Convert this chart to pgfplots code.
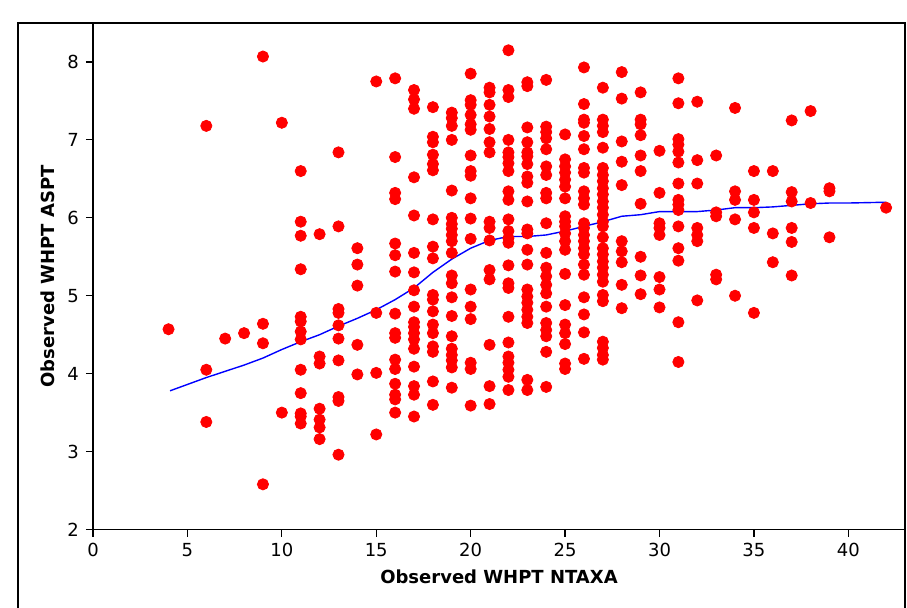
\documentclass[border=0pt]{standalone}
\usepackage{fontspec}
\setmainfont{DejaVu Sans}
\usepackage{pgfplots}
\pgfplotsset{compat=1.18}

\begin{document}
\begin{tikzpicture}
\useasboundingbox (-46.5pt,-38.75pt) rectangle (407pt,264.75pt);
% graph frame
\draw[line width=0.6pt] (-37.5pt,-45pt) -- (-37.5pt,253.25pt) -- (406pt,253.25pt) -- (406pt,-45pt);
\begin{axis}[
  at={(0,0)}, anchor=south west,
  width=406pt, height=253.25pt, scale only axis,
  xmin=0, xmax=43, ymin=2, ymax=8.5,
  axis x line*=bottom, axis y line*=left,
  axis line style={line width=0.6pt},
  xtick={0,5,...,40}, ytick={2,3,...,8},
  tick align=outside, major tick length=3.5pt,
  tick style={black, line width=0.6pt},
  /pgf/number format/assume math mode=true,
  ticklabel style={font=\fontsize{9}{10}\selectfont},
  xlabel={Observed WHPT NTAXA},
  ylabel={Observed WHPT ASPT},
  label style={font=\fontsize{9}{10}\selectfont\bfseries},
  xlabel style={at={(axis description cs:0.5,-0.094)}, anchor=center},
  ylabel style={at={(axis description cs:-0.056,0.5)}, anchor=center},
  clip=false,
]
\addplot[only marks, mark=*, mark size=2.8pt, color=red, fill=red] coordinates {
(4,4.57)
(6,7.18)(6,4.05)(6,3.38)
(7,4.45)
(8,4.52)
(9,8.07)(9,4.64)(9,4.39)(9,2.58)
(10,7.22)(10,3.50)
(11,6.60)(11,5.95)(11,5.77)(11,5.34)(11,4.73)(11,4.67)(11,4.54)(11,4.44)(11,4.05)(11,3.75)(11,3.49)(11,3.45)(11,3.36)
(12,5.79)(12,4.22)(12,4.13)(12,3.55)(12,3.41)(12,3.31)(12,3.16)
(13,6.84)(13,5.89)(13,4.83)(13,4.78)(13,4.62)(13,4.45)(13,4.17)(13,3.70)(13,3.65)(13,2.96)
(14,5.61)(14,5.40)(14,5.13)(14,4.37)(14,3.99)
(15,7.75)(15,4.78)(15,4.01)(15,3.22)
(16,7.79)(16,6.78)(16,6.32)(16,6.24)(16,5.67)(16,5.52)(16,5.31)(16,4.77)(16,4.52)(16,4.46)(16,4.18)(16,4.06)(16,3.87)(16,3.73)(16,3.67)(16,3.50)
(17,7.64)(17,7.52)(17,7.40)(17,6.52)(17,6.03)(17,5.55)(17,5.30)(17,5.07)(17,4.86)(17,4.66)(17,4.60)(17,4.52)(17,4.44)(17,4.32)(17,4.09)(17,3.84)(17,3.73)(17,3.45)
(18,7.42)(18,7.04)(18,6.97)(18,6.81)(18,6.69)(18,6.61)(18,5.98)(18,5.63)(18,5.48)(18,5.01)(18,4.95)(18,4.80)(18,4.63)(18,4.52)(18,4.35)(18,4.28)(18,3.90)(18,3.60)
(19,7.35)(19,7.28)(19,7.18)(19,7.00)(19,6.35)(19,6.00)(19,5.92)(19,5.86)(19,5.78)(19,5.70)(19,5.55)(19,5.26)(19,5.16)(19,4.98)(19,4.74)(19,4.48)(19,4.32)(19,4.24)(19,4.17)(19,4.08)(19,3.82)
(20,7.85)(20,7.51)(20,7.45)(20,7.32)(20,7.20)(20,7.13)(20,6.80)(20,6.60)(20,6.54)(20,6.25)(20,5.99)(20,5.73)(20,5.08)(20,4.86)(20,4.70)(20,4.14)(20,4.06)(20,3.59)
(21,7.67)(21,7.61)(21,7.45)(21,7.30)(21,7.14)(21,6.97)(21,6.84)(21,5.95)(21,5.87)(21,5.71)(21,5.33)(21,5.21)(21,4.37)(21,3.84)(21,3.61)
(22,8.15)(22,7.64)(22,7.55)(22,7.00)(22,6.84)(22,6.78)(22,6.70)(22,6.60)(22,6.34)(22,6.23)(22,5.98)(22,5.83)(22,5.74)(22,5.68)(22,5.39)(22,5.16)(22,5.10)(22,4.73)(22,4.40)(22,4.22)(22,4.14)(22,4.05)(22,3.96)(22,3.79)
(23,7.74)(23,7.69)(23,7.16)(23,6.97)(23,6.84)(23,6.79)(23,6.69)(23,6.53)(23,6.45)(23,6.21)(23,5.85)(23,5.80)(23,5.59)(23,5.40)(23,5.08)(23,4.99)(23,4.91)(23,4.82)(23,4.73)(23,4.65)(23,3.92)(23,3.79)
(24,7.77)(24,7.17)(24,7.10)(24,7.02)(24,6.88)(24,6.66)(24,6.55)(24,6.32)(24,6.25)(24,5.93)(24,5.55)(24,5.36)(24,5.25)(24,5.14)(24,5.03)(24,4.86)(24,4.65)(24,4.56)(24,4.48)(24,4.28)(24,3.83)
(25,7.07)(25,6.75)(25,6.66)(25,6.58)(25,6.49)(25,6.40)(25,6.25)(25,6.02)(25,5.95)(25,5.89)(25,5.80)(25,5.70)(25,5.59)(25,5.28)(25,4.88)(25,4.63)(25,4.52)(25,4.38)(25,4.13)(25,4.06)
(26,7.93)(26,7.46)(26,7.26)(26,7.22)(26,7.05)(26,6.88)(26,6.64)(26,6.58)(26,6.34)(26,6.25)(26,6.17)(26,5.93)(26,5.87)(26,5.78)(26,5.70)(26,5.61)(26,5.53)(26,5.40)(26,5.27)(26,4.98)(26,4.76)(26,4.53)(26,4.19)
(27,7.67)(27,7.26)(27,7.18)(27,7.10)(27,6.90)(27,6.64)(27,6.55)(27,6.47)(27,6.38)(27,6.30)(27,6.21)(27,6.13)(27,6.04)(27,5.95)(27,5.89)(27,5.75)(27,5.61)(27,5.53)(27,5.44)(27,5.36)(27,5.27)(27,5.18)(27,5.01)(27,4.93)(27,4.41)(27,4.33)(27,4.24)(27,4.18)
(28,7.87)(28,7.53)(28,6.98)(28,6.72)(28,6.42)(28,5.70)(28,5.57)(28,5.43)(28,5.14)(28,4.84)
(29,7.61)(29,7.26)(29,7.20)(29,7.06)(29,6.80)(29,6.60)(29,6.18)(29,5.50)(29,5.26)(29,5.02)
(30,6.86)(30,6.32)(30,5.93)(30,5.87)(30,5.78)(30,5.24)(30,5.08)(30,4.85)
(31,7.79)(31,7.47)(31,7.01)(31,6.94)(31,6.85)(31,6.71)(31,6.44)(31,6.23)(31,6.17)(31,6.10)(31,5.89)(31,5.61)(31,5.45)(31,4.66)(31,4.15)
(32,7.49)(32,6.74)(32,6.44)(32,5.87)(32,5.78)(32,5.70)(32,4.94)
(33,6.80)(33,6.07)(33,6.02)(33,5.27)(33,5.21)
(34,7.41)(34,6.34)(34,6.23)(34,5.98)(34,5.00)
(35,6.60)(35,6.23)(35,6.07)(35,5.87)(35,4.78)
(36,6.60)(36,5.80)(36,5.43)
(37,7.25)(37,6.33)(37,6.21)(37,5.87)(37,5.69)(37,5.26)
(38,7.37)(38,6.19)
(39,6.38)(39,6.34)(39,5.75)
(42,6.13)
};
\addplot[blue, line width=0.7pt, no marks] coordinates {
(4.08,3.78)(6,3.95)(8,4.11)(9,4.20)(10,4.31)(11,4.41)(12,4.50)(13,4.61)(14,4.71)(15,4.82)(16,4.95)(17,5.10)(18,5.30)(19,5.47)(20,5.61)(21,5.71)(22,5.76)(23,5.76)(24,5.78)(25,5.83)(26,5.89)(27,5.95)(28,6.02)(29,6.04)(30,6.08)(31,6.08)(32,6.08)(33,6.10)(34,6.13)(35,6.13)(36,6.14)(37,6.16)(38,6.18)(39,6.19)(40,6.19)(42,6.20)
};
\end{axis}
\end{tikzpicture}
\end{document}
